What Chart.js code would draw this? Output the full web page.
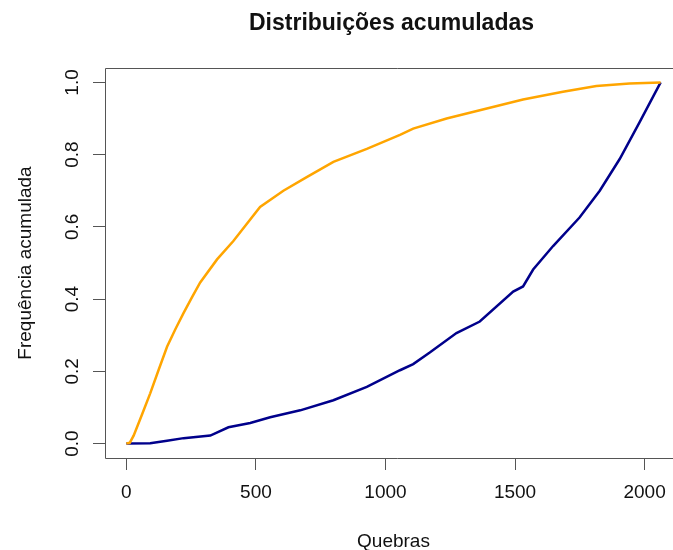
<!DOCTYPE html>
<html>
<head>
<meta charset="utf-8">
<script src="https://cdn.jsdelivr.net/npm/chart.js@4/dist/chart.umd.min.js"></script>
<style>
  html, body { margin: 0; padding: 0; background: #fff; overflow: hidden; }
  #wrap { width: 673px; height: 550px; overflow: hidden; position: relative; }
  #chart { position: absolute; left: 0; top: 0; }
</style>
</head>
<body>
<div id="wrap"><canvas id="chart" width="690" height="550"></canvas></div>
<script>
// cumulative frequency of breaks, two orderings
const orangeX = [0, 13, 28, 60, 92, 125, 157, 190, 221, 253, 285, 350, 413, 516, 606, 696, 799, 928, 1056, 1107, 1236, 1364, 1531, 1685, 1814, 1942, 2062];
const orangeY = [0, 0.002, 0.022, 0.08, 0.139, 0.205, 0.268, 0.318, 0.362, 0.405, 0.446, 0.510, 0.561, 0.655, 0.700, 0.738, 0.780, 0.816, 0.855, 0.872, 0.900, 0.923, 0.953, 0.974, 0.990, 0.997, 1.0];

const blueX = [0, 92, 157, 221, 324, 394, 478, 555, 671, 799, 928, 1056, 1107, 1171, 1274, 1364, 1493, 1531, 1570, 1647, 1749, 1827, 1904, 1981, 2062];
const blueY = [0, 0.001, 0.008, 0.015, 0.022, 0.045, 0.057, 0.073, 0.092, 0.120, 0.157, 0.203, 0.220, 0.252, 0.306, 0.338, 0.421, 0.435, 0.482, 0.547, 0.626, 0.700, 0.788, 0.890, 1.0];

const xTicks = [0, 500, 1000, 1500, 2000];
const yTicks = [0, 0.2, 0.4, 0.6, 0.8, 1.0];

const title = 'Distribuições acumuladas';
const xTitle = 'Quebras';
const yTitle = 'Frequência acumulada';

const FONT = '"Liberation Sans", Arial, sans-serif';
const AXIS = '#555';

// R-style 4% padding around the data range
const xMaxData = 2062;
const xPad = xMaxData * 0.04;

const toPoints = (xs, ys) => xs.map((x, i) => ({ x: x, y: ys[i] }));

const frame = {
  id: 'frame',
  afterDraw(chart) {
    const ctx = chart.ctx;
    const a = chart.chartArea;
    const yScale = chart.scales.y;
    const cx = (a.left + a.right) / 2;
    const cy = (a.top + a.bottom) / 2;

    // plot frame; the right side runs past the visible page
    ctx.save();
    ctx.strokeStyle = AXIS;
    ctx.lineWidth = 1;
    ctx.beginPath();
    ctx.moveTo(chart.width, a.top + 0.5);
    ctx.lineTo(a.left + 0.5, a.top + 0.5);
    ctx.lineTo(a.left + 0.5, a.bottom + 0.5);
    ctx.lineTo(chart.width, a.bottom + 0.5);
    ctx.stroke();

    ctx.fillStyle = '#111';
    ctx.textAlign = 'center';

    ctx.font = 'bold 23px ' + FONT;
    ctx.textBaseline = 'alphabetic';
    ctx.fillText(title, cx - 2, 30);

    ctx.font = '19px ' + FONT;
    ctx.fillText(xTitle, cx, 547);

    // vertical tick labels on the y axis
    ctx.textBaseline = 'middle';
    yTicks.forEach(v => {
      ctx.save();
      ctx.translate(73, yScale.getPixelForValue(v));
      ctx.rotate(-Math.PI / 2);
      ctx.fillText(v.toFixed(1), 0, 0);
      ctx.restore();
    });

    ctx.translate(26, cy);
    ctx.rotate(-Math.PI / 2);
    ctx.fillText(yTitle, 0, 0);
    ctx.restore();
  }
};

new Chart(document.getElementById('chart'), {
  type: 'line',
  data: {
    datasets: [
      {
        data: toPoints(orangeX, orangeY),
        borderColor: '#FFA500',
        borderWidth: 2.5,
        pointRadius: 0,
        tension: 0
      },
      {
        data: toPoints(blueX, blueY),
        borderColor: '#00008B',
        borderWidth: 2.5,
        pointRadius: 0,
        tension: 0
      }
    ]
  },
  options: {
    responsive: false,
    animation: false,
    layout: { padding: { top: 68, right: 8, left: 0, bottom: 0 } },
    plugins: {
      legend: { display: false },
      title: { display: false },
      tooltip: { enabled: false }
    },
    scales: {
      x: {
        type: 'linear',
        min: -xPad,
        max: xMaxData + xPad,
        afterBuildTicks: s => { s.ticks = xTicks.map(v => ({ value: v })); },
        afterFit: s => { s.height = 92; },
        border: { display: false },
        grid: { drawOnChartArea: false, drawTicks: true, tickLength: 12, color: AXIS },
        ticks: {
          padding: 11,
          color: '#111',
          font: { family: FONT, size: 19 },
          maxRotation: 0,
          autoSkip: false,
          callback: v => String(v)
        }
      },
      y: {
        type: 'linear',
        min: -0.04,
        max: 1.04,
        afterBuildTicks: s => { s.ticks = yTicks.map(v => ({ value: v })); },
        afterFit: s => { s.width = 105; },
        border: { display: false },
        grid: { drawOnChartArea: false, drawTicks: true, tickLength: 12, color: AXIS },
        ticks: { color: 'rgba(0,0,0,0)', font: { family: FONT, size: 19 } }
      }
    }
  },
  plugins: [frame]
});
</script>
</body>
</html>
